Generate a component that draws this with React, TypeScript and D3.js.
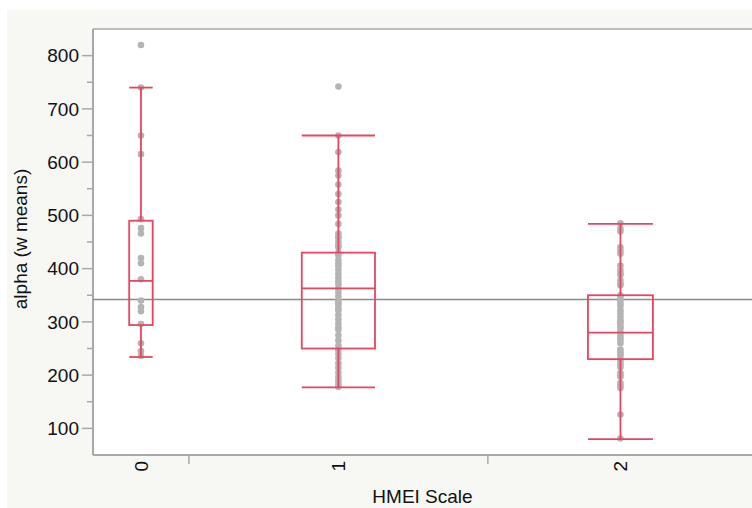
import React from 'react';
import * as d3 from 'd3';

const categories = ['0', '1', '2'];

// alpha values per HMEI scale group
const group0 = [820, 740, 650, 615, 493, 476, 466, 420, 410, 380, 340, 328, 320, 296, 260, 245, 236];
const group1 = [
  742, 650, 619, 584, 575, 558, 540, 525, 511, 500, 484, 466, 460, 458, 450, 444, 440, 430, 425, 416,
  410, 405, 398, 390, 383, 376, 370, 362, 355, 348, 340, 335, 332, 326, 322, 313, 305, 297, 290, 285,
  275, 265, 255, 247, 240, 232, 222, 214, 205, 197, 190, 184, 178,
];
const group2 = [
  485, 475, 470, 440, 434, 428, 406, 398, 392, 388, 378, 372, 369, 350, 345, 340, 335, 330, 322, 316,
  310, 304, 300, 298, 292, 288, 281, 276, 271, 266, 260, 248, 244, 240, 236, 230, 225, 220, 215, 204,
  200, 197, 185, 180, 176, 126, 81,
];
const groups = [group0, group1, group2];

// box plot summaries
const whiskerHigh = [740, 650, 484];
const q3 = [490, 430, 350];
const median = [377, 363, 280];
const q1 = [294, 250, 230];
const whiskerLow = [234, 177, 80];
const grandMean = 342;

const yMajor = [100, 200, 300, 400, 500, 600, 700, 800];
const yMinor = [150, 250, 350, 450, 550, 650, 750];

const W = 752;
const H = 508;
const left = 93;
const right = 753;
const top = 29;
const bottom = 455;

const RED = '#e8455e';
const AXIS = '#a8a8a8';
const FONT = 'Liberation Sans, Arial, Helvetica, sans-serif';
const FS = 19;

export default function App() {
  const y = d3.scaleLinear().domain([50, 850]).range([bottom, top]);

  // band widths proportional to group size (JMP style)
  const counts = groups.map(g => g.length);
  const cum = [0, ...d3.cumsum(counts)];
  const xLin = d3.scaleLinear().domain([0, d3.sum(counts)]).range([left, right]);
  const bands = categories.map((c, i) => {
    const x0 = xLin(cum[i]);
    const x1 = xLin(cum[i + 1]);
    return { c, x0, x1, cx: (x0 + x1) / 2, w: x1 - x0 };
  });

  return (
    <div style={{ position: 'absolute', top: 0, left: 0 }}>
      <svg width={W} height={H} style={{ display: 'block' }} fontFamily={FONT}>
        <rect x={0} y={0} width={W} height={H} fill="#ffffff" />
        <rect x={7} y={10} width={W - 7} height={H - 10} fill="#f7f7f4" />
        <rect x={left} y={top} width={right - left} height={bottom - top} fill="#ffffff" />

        {/* frame and axes */}
        <line x1={left} x2={right} y1={top} y2={top} stroke={AXIS} strokeWidth={1.5} />
        <line x1={left} x2={left} y1={top} y2={bottom} stroke={AXIS} strokeWidth={2} />
        <line x1={left} x2={right} y1={bottom} y2={bottom} stroke={AXIS} strokeWidth={2} />

        {yMajor.map(v => (
          <g key={v}>
            <line x1={left - 11} x2={left} y1={y(v)} y2={y(v)} stroke={AXIS} strokeWidth={1.5} />
            <text x={left - 14} y={y(v)} dy="0.35em" textAnchor="end" fontSize={FS} fill="#111">
              {v}
            </text>
          </g>
        ))}
        {yMinor.map(v => (
          <line key={v} x1={left - 6} x2={left} y1={y(v)} y2={y(v)} stroke={AXIS} strokeWidth={1.5} />
        ))}

        {bands.map((b, i) => (
          <g key={b.c}>
            {i > 0 && <line x1={b.x0} x2={b.x0} y1={bottom} y2={bottom + 9} stroke={AXIS} strokeWidth={1.5} />}
            <text
              transform={`translate(${b.cx},${bottom + 6}) rotate(-90)`}
              dy="0.35em"
              textAnchor="end"
              fontSize={FS}
              fill="#111"
            >
              {b.c}
            </text>
          </g>
        ))}

        <text x={(left + W) / 2} y={503} textAnchor="middle" fontSize={FS} fill="#111">
          HMEI Scale
        </text>
        <text
          transform={`translate(20,${(top + bottom) / 2 - 3}) rotate(-90)`}
          dy="0.35em"
          textAnchor="middle"
          fontSize={FS}
          fill="#111"
        >
          alpha (w means)
        </text>

        {/* grand mean */}
        <line x1={left} x2={right} y1={y(grandMean)} y2={y(grandMean)} stroke="#8a8a8a" strokeWidth={1.5} />

        {/* points */}
        {bands.map((b, i) =>
          groups[i].map((v, j) => (
            <circle key={`${i}-${j}`} cx={b.cx} cy={y(v)} r={3.3} fill="#b4b4b4" />
          ))
        )}

        {/* boxes */}
        {bands.map((b, i) => {
          const bw = b.w * 0.245;
          const bx = b.cx - bw / 2;
          return (
            <g key={`box-${i}`} stroke={RED} strokeWidth={1.8} fill="none">
              <line x1={b.cx} x2={b.cx} y1={y(whiskerHigh[i])} y2={y(q3[i])} />
              <line x1={b.cx} x2={b.cx} y1={y(q1[i])} y2={y(whiskerLow[i])} />
              <line x1={bx} x2={bx + bw} y1={y(whiskerHigh[i])} y2={y(whiskerHigh[i])} />
              <line x1={bx} x2={bx + bw} y1={y(whiskerLow[i])} y2={y(whiskerLow[i])} />
              <rect x={bx} y={y(q3[i])} width={bw} height={y(q1[i]) - y(q3[i])} />
              <line x1={bx} x2={bx + bw} y1={y(median[i])} y2={y(median[i])} />
            </g>
          );
        })}
      </svg>
    </div>
  );
}
